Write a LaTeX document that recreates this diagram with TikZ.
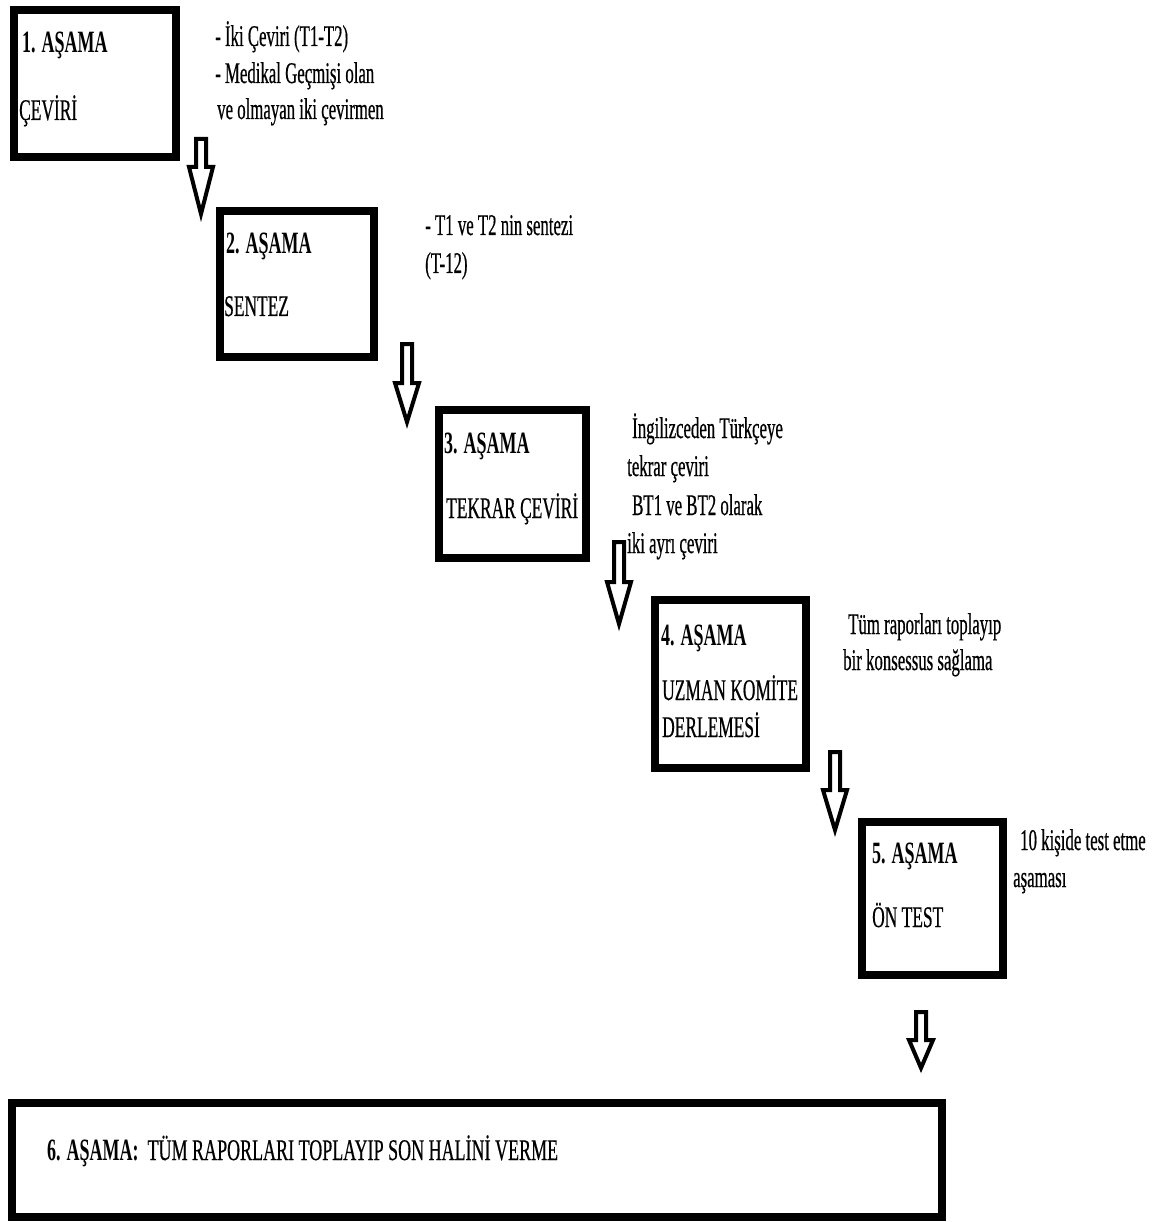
\documentclass[tikz,border=0pt]{standalone}
\usepackage{fontspec}
\setmainfont{Liberation Serif}
\newfontfamily\cond[FakeStretch=0.56,FakeBold=0.5]{Liberation Serif}
\newfontfamily\condcap[FakeStretch=0.58,FakeBold=0.5]{Liberation Serif}
\newfontfamily\condwide[FakeStretch=0.60,FakeBold=0.5]{Liberation Serif}
\newfontfamily\condb[FakeStretch=0.58]{Liberation Serif}
\newcommand\blockarr[4]{%
  \draw[arrowline] (#1-5,#2) -- (#1+5,#2) -- (#1+5,#3) -- (#1+12,#3) -- (#1,#4) -- (#1-12,#3) -- (#1-5,#3) -- cycle;}
\begin{document}
\begin{tikzpicture}[x=1pt,y=-1pt,
  stagebox/.style={draw, line width=8pt, inner sep=0pt, outer sep=0pt, anchor=north west},
  ttl/.style={anchor=base west, inner sep=0pt, font=\condb\bfseries\fontsize{31}{36}\selectfont},
  txt/.style={anchor=base west, inner sep=0pt, font=\cond\fontsize{30}{37}\selectfont},
  captxt/.style={anchor=base west, inner sep=0pt, font=\condcap\fontsize{30}{37}\selectfont},
  arrowline/.style={draw, line width=4pt, line join=miter, fill=white}]
\useasboundingbox[fill=white] (0,0) rectangle (1170,1222);

% boxes
\node[stagebox, minimum width=162pt, minimum height=147pt] (b1) at (14,10) {};
\node[stagebox, minimum width=154pt, minimum height=146pt] (b2) at (220,211) {};
\node[stagebox, minimum width=147pt, minimum height=148pt] (b3) at (439,410) {};
\node[stagebox, minimum width=151pt, minimum height=168pt] (b4) at (655,600) {};
\node[stagebox, minimum width=141pt, minimum height=153pt] (b5) at (862,822) {};
\node[stagebox, minimum width=930pt, minimum height=114pt] (b6) at (12,1103) {};

% box texts
\node[ttl] (t1a) at (22,53) {1. AŞAMA};
\node[captxt] (t1b) at (19,120) {ÇEVİRİ};
\node[ttl] (t2a) at (226,254) {2. AŞAMA};
\node[captxt] (t2b) at (224,316) {SENTEZ};
\node[ttl] (t3a) at (444,453) {3. AŞAMA};
\node[captxt] (t3b) at (446,518) {TEKRAR ÇEVİRİ};
\node[ttl] (t4a) at (661,645) {4. AŞAMA};
\node[captxt] (t4b) at (662,700) {UZMAN KOMİTE};
\node[captxt] (t4c) at (662,737) {DERLEMESİ};
\node[ttl] (t5a) at (872,863) {5. AŞAMA};
\node[captxt] (t5b) at (872,927) {ÖN TEST};
\node[captxt, font=\condwide\fontsize{30}{37}\selectfont] (t6) at (47,1160) {{\condb\bfseries\fontsize{31}{36}\selectfont 6. AŞAMA:}\hspace{9pt}TÜM RAPORLARI TOPLAYIP SON HALİNİ VERME};

% notes
\node[txt] (n1a) at (215,46) {- İki Çeviri (T1-T2)};
\node[txt] (n1b) at (215,83) {- Medikal Geçmişi olan};
\node[txt] (n1c) at (217,119) {ve olmayan iki çevirmen};
\node[txt] (n2a) at (425,235) {- T1 ve T2 nin sentezi};
\node[txt] (n2b) at (425,273) {(T-12)};
\node[txt] (n3a) at (632,438) {İngilizceden Türkçeye};
\node[txt] (n3b) at (627,476) {tekrar çeviri};
\node[txt] (n3c) at (632,515) {BT1 ve BT2 olarak};
\node[txt] (n3d) at (627,553) {iki ayrı çeviri};
\node[txt] (n4a) at (848,634) {Tüm raporları toplayıp};
\node[txt] (n4b) at (843,670) {bir konsessus sağlama};
\node[txt] (n5a) at (1020,850) {10 kişide test etme};
\node[txt] (n5b) at (1013,887) {aşaması};

% hollow block arrows
\blockarr{201}{139}{167}{214}
\blockarr{407}{344}{383}{422}
\blockarr{619}{542}{582}{624}
\blockarr{835}{752}{790}{830}
\blockarr{921}{1012}{1040}{1068}
\end{tikzpicture}
\end{document}
